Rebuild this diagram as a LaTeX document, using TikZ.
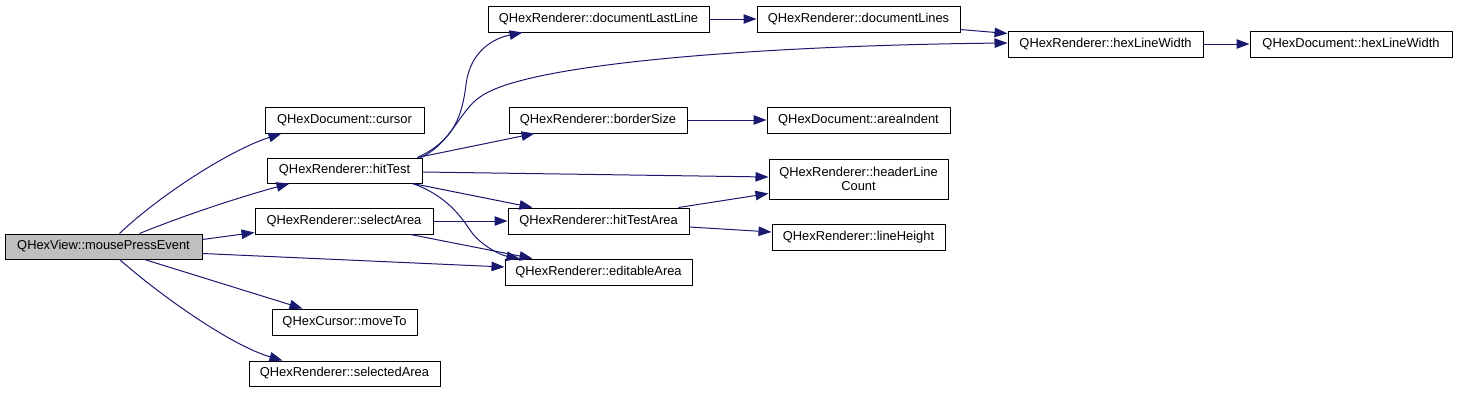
\documentclass[tikz,border=0pt]{standalone}
\usepackage{fontspec}
\setmainfont{Liberation Sans}
\usetikzlibrary{calc,arrows.meta}
\definecolor{edgeblue}{RGB}{25,25,112}
\definecolor{curgray}{RGB}{191,191,191}
\begin{document}
\begin{tikzpicture}[x=1pt,y=-1pt,
  fn/.style={draw=black,line width=1pt,fill=white,inner sep=0pt,align=center,
    font=\fontsize{12.9}{14}\selectfont},
  edge/.style={draw=edgeblue,line width=1pt,-{Triangle[length=13pt,width=9.5pt]},edgeblue}]
\useasboundingbox (0,0) rectangle (1457,392);
% nodes
\node[fn,fill=curgray,minimum width=197pt,minimum height=25pt] (mouse) at (103.5,246.5) {QHexView::mousePressEvent};
\node[fn,minimum width=159pt,minimum height=26pt] (cursor) at (344.5,120) {QHexDocument::cursor};
\node[fn,minimum width=155pt,minimum height=25pt] (hitTest) at (344.5,170.5) {QHexRenderer::hitTest};
\node[fn,minimum width=178pt,minimum height=26pt] (selectArea) at (344,221) {QHexRenderer::selectArea};
\node[fn,minimum width=145pt,minimum height=26pt] (moveTo) at (344.5,322) {QHexCursor::moveTo};
\node[fn,minimum width=191pt,minimum height=25pt] (selectedArea) at (344.5,373.5) {QHexRenderer::selectedArea};
\node[fn,minimum width=221pt,minimum height=26pt] (docLastLine) at (598.5,19) {QHexRenderer::documentLastLine};
\node[fn,minimum width=203pt,minimum height=26pt] (docLines) at (858.5,19) {QHexRenderer::documentLines};
\node[fn,minimum width=178pt,minimum height=26pt] (borderSize) at (598,120) {QHexRenderer::borderSize};
\node[fn,minimum width=183pt,minimum height=26pt] (areaIndent) at (858.5,120) {QHexDocument::areaIndent};
\node[fn,minimum width=179pt,minimum height=40pt] (headerLC) at (858.5,179) {QHexRenderer::headerLine\\Count};
\node[fn,minimum width=181pt,minimum height=26pt] (hitTestArea) at (598.5,221) {QHexRenderer::hitTestArea};
\node[fn,minimum width=173pt,minimum height=26pt] (lineHeight) at (858.5,237) {QHexRenderer::lineHeight};
\node[fn,minimum width=187pt,minimum height=26pt] (editableArea) at (598.5,272) {QHexRenderer::editableArea};
\node[fn,minimum width=195pt,minimum height=26pt] (rHexLW) at (1105.5,44) {QHexRenderer::hexLineWidth};
\node[fn,minimum width=202pt,minimum height=26pt] (dHexLW) at (1351,44) {QHexDocument::hexLineWidth};
% edges from mousePressEvent
\draw[edge] ($(mouse.north west)+(115,0)$) .. controls (160,195) and (230,150) .. ($(cursor.south west)+(17,0)$);
\draw[edge] ($(mouse.north west)+(135,0)$) .. controls (185,215) and (240,197) .. ($(hitTest.south west)+(23,0)$);
\draw[edge] ($(mouse.north east)+(0,6)$) -- ($(selectArea.south west)+(0,-2)$);
\draw[edge] ($(mouse.south east)+(0,-6)$) -- ($(editableArea.west)+(0,-5)$);
\draw[edge] ($(mouse.south west)+(140,0)$) -- ($(moveTo.north west)+(31,0)$);
\draw[edge] ($(mouse.south west)+(115,0)$) .. controls (160,295) and (230,345) .. ($(selectedArea.north west)+(34,0)$);
% edges from hitTest
\draw[edge] ($(hitTest.north east)+(-5,0)$) .. controls (455,140) and (462,115) .. (466,85) .. controls (470,50) and (495,38) .. ($(docLastLine.south west)+(35,0)$);
\draw[edge] ($(hitTest.north east)+(-2,0)$) .. controls (450,145) and (460,110) .. (480,97) .. controls (530,60) and (800,45) .. ($(rHexLW.west)+(0,-1)$);
\draw[edge] ($(hitTest.north east)+(-5,0)$) -- ($(borderSize.south west)+(26,0)$);
\draw[edge] ($(hitTest.east)+(0,1.5)$) -- ($(headerLC.west)+(0,-2)$);
\draw[edge] ($(hitTest.south east)+(-10,0)$) -- ($(hitTestArea.north west)+(25,0)$);
\draw[edge] ($(hitTest.south east)+(-10,0)$) .. controls (445,195) and (460,215) .. (470,230) .. controls (480,245) and (500,255) .. ($(editableArea.north west)+(15,0)$);
% edges from selectArea
\draw[edge] (selectArea.east) -- (hitTestArea.west);
\draw[edge] ($(selectArea.south east)+(-23,0)$) -- ($(editableArea.north west)+(28,0)$);
% remaining edges
\draw[edge] (docLastLine.east) -- (docLines.west);
\draw[edge] ($(docLines.south east)+(0,-3)$) -- ($(rHexLW.north west)+(0,3)$);
\draw[edge] (borderSize.east) -- (areaIndent.west);
\draw[edge] ($(hitTestArea.north east)+(-11,0)$) -- ($(headerLC.south west)+(0,-6)$);
\draw[edge] ($(hitTestArea.east)+(0,6)$) -- ($(lineHeight.west)+(0,-5)$);
\draw[edge] (rHexLW.east) -- (dHexLW.west);
\end{tikzpicture}
\end{document}
